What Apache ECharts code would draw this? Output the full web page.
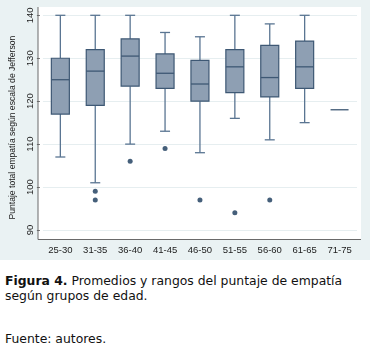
<!DOCTYPE html>
<html>
<head>
<meta charset="utf-8">
<script src="https://cdn.jsdelivr.net/npm/echarts@6/dist/echarts.min.js"></script>
<style>
  body { margin: 0; background: #fff; }
  #chart { width: 370px; height: 260px; }
  .cap { font-family: "DejaVu Sans", sans-serif; font-size: 12.4px; color: #111; position: absolute; left: 5px; line-height: 15px; }
</style>
</head>
<body>
<div id="chart"></div>
<div class="cap" style="top:273px"><b>Figura 4.</b> Promedios y rangos del puntaje de empatía<br>según grupos de edad.</div>
<div class="cap" style="top:331px">Fuente: autores.</div>
<script>
// grupos de edad
const categories = ["25-30", "31-35", "36-40", "41-45", "46-50", "51-55", "56-60", "61-65", "71-75"];
const whiskerLow = [107, 101, 110, 113, 108, 116, 111, 115, 118];
const q1 = [117, 119, 123.5, 123, 120, 122, 121, 123, 118];
const median = [125, 127, 130.5, 126.5, 124, 128, 125.5, 128, 118];
const q3 = [130, 132, 134.5, 131, 129.5, 132, 133, 134, 118];
const whiskerHigh = [140, 140, 140, 136, 135, 140, 138, 140, 118];
// [grupo, valor]
const outliers = [[1, 99], [1, 97], [2, 106], [3, 109], [4, 97], [5, 94], [6, 97]];
const yTicks = [90, 100, 110, 120, 130, 140];

const boxData = categories.map((c, i) => [i, whiskerLow[i], q1[i], median[i], q3[i], whiskerHigh[i]]);

const edge = "#3e5874";
const whiskerColor = "#5a7592";

function renderBox(params, api) {
  const i = api.value(0);
  const lo = api.coord([i, api.value(1)]);
  const b1 = api.coord([i, api.value(2)]);
  const md = api.coord([i, api.value(3)]);
  const b3 = api.coord([i, api.value(4)]);
  const hi = api.coord([i, api.value(5)]);
  const x = lo[0];
  const hw = 9, cw = 5;
  const children = [];
  if (api.value(1) !== api.value(5)) {
    children.push(
      { type: "line", shape: { x1: x, y1: b1[1], x2: x, y2: lo[1] }, style: { stroke: whiskerColor, lineWidth: 1.3 } },
      { type: "line", shape: { x1: x, y1: b3[1], x2: x, y2: hi[1] }, style: { stroke: whiskerColor, lineWidth: 1.3 } },
      { type: "line", shape: { x1: x - cw, y1: lo[1], x2: x + cw, y2: lo[1] }, style: { stroke: whiskerColor, lineWidth: 1.3 } },
      { type: "line", shape: { x1: x - cw, y1: hi[1], x2: x + cw, y2: hi[1] }, style: { stroke: whiskerColor, lineWidth: 1.3 } },
      { type: "rect", shape: { x: x - hw, y: b3[1], width: hw * 2, height: b1[1] - b3[1] }, style: { fill: "#8e9fb3", stroke: edge, lineWidth: 1.2 } }
    );
  }
  children.push({ type: "line", shape: { x1: x - hw, y1: md[1], x2: x + hw, y2: md[1] }, style: { stroke: edge, lineWidth: 1.3 } });
  return { type: "group", children: children };
}

const chart = echarts.init(document.getElementById("chart"));
chart.setOption({
  animation: false,
  backgroundColor: "#eaf2f3",
  graphic: [
    { type: "rect", z: -10, shape: { x: 38, y: 7, width: 323, height: 232 }, style: { fill: "#fff" } },
    { type: "line", z: 10, shape: { x1: 38, y1: 7, x2: 38, y2: 239.5 }, style: { stroke: "#6a6a6a", lineWidth: 1 } },
    { type: "line", z: 10, shape: { x1: 38, y1: 239.5, x2: 361, y2: 239.5 }, style: { stroke: "#6a6a6a", lineWidth: 1 } }
  ],
  grid: { left: 41, right: 13, top: 15.3, bottom: 30 },
  xAxis: {
    type: "category",
    data: categories,
    axisLine: { show: false },
    axisTick: { show: false },
    axisLabel: { margin: 15, fontSize: 9.5, color: "#222", fontFamily: "Liberation Sans", interval: 0 }
  },
  yAxis: {
    type: "value",
    min: yTicks[0],
    max: yTicks[yTicks.length - 1],
    interval: 10,
    offset: 3,
    name: "Puntaje total empatía según escala de Jefferson",
    nameLocation: "middle",
    nameGap: 22,
    nameTextStyle: { fontSize: 8.6, color: "#222", fontFamily: "Liberation Sans", padding: [0, 10, 0, 0] },
    axisLine: { show: false },
    axisTick: { show: true, length: 3, lineStyle: { color: "#6a6a6a" } },
    axisLabel: { rotate: 90, margin: 5, fontSize: 9.5, color: "#222", fontFamily: "Liberation Sans" },
    splitLine: { lineStyle: { color: "#e6eef0", width: 1 } }
  },
  series: [
    {
      type: "custom",
      renderItem: renderBox,
      encode: { x: 0, y: [1, 2, 3, 4, 5] },
      data: boxData
    },
    {
      type: "scatter",
      data: outliers,
      symbolSize: 5,
      itemStyle: { color: "#173759" }
    }
  ]
});
</script>
</body>
</html>
